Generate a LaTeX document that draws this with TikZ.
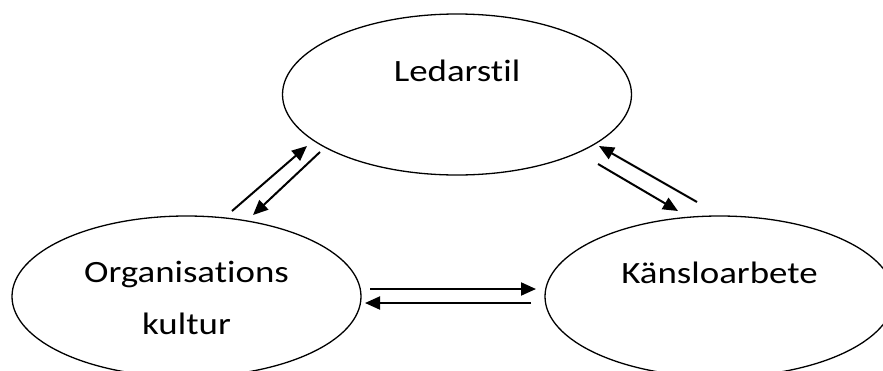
\documentclass[tikz,border=0pt]{standalone}
\usepackage{fontspec}
\newfontfamily\calibri{Carlito}[FakeStretch=1.19,Ligatures=NoCommon]
\usetikzlibrary{shapes.geometric,arrows.meta}

\begin{document}
\begin{tikzpicture}[x=1pt,y=-1pt,>={Triangle[length=15pt,width=13pt]},
                    oval/.style={ellipse,draw,line width=1.3pt,minimum width=349pt,minimum height=161pt,inner sep=0pt},
                    txt/.style={font=\calibri\fontsize{31}{52}\selectfont,align=center,anchor=base,inner sep=0pt},
                    conn/.style={->,line width=2pt}]
  \clip (0,0) rectangle (883,370);
  \fill[white] (0,0) rectangle (883,370);

  \node[oval] (led) at (457,94.5) {};
  \node[oval] (org) at (186.5,296.5) {};
  \node[oval] (kan) at (719.5,296.5) {};

  % text sits at the top of each oval, base of the last line
  \node[txt] (ledtxt) at ([yshift=-68pt]led.north) {Ledarstil};
  \node[txt] (orgtxt) at ([yshift=-119pt]org.north) {Organisations\\kultur};
  \node[txt] (kantxt) at ([yshift=-68pt]kan.north) {Känsloarbete};

  % ends of the arrows
  \coordinate (orgup) at (232,211);
  \coordinate (ledlo) at (307,146);
  \coordinate (ledlf) at (320,152);
  \coordinate (orgdn) at (253,215);
  \coordinate (kanup) at (697,202);
  \coordinate (ledro) at (599,146);
  \coordinate (ledrf) at (598,164);
  \coordinate (kandn) at (678,211);
  \coordinate (orgr1) at (370,289);
  \coordinate (kanl1) at (536,289);
  \coordinate (kanl2) at (531,303);
  \coordinate (orgr2) at (365,303);

  \draw[conn] (orgup) -- (ledlo);
  \draw[conn] (ledlf) -- (orgdn);
  \draw[conn] (kanup) -- (ledro);
  \draw[conn] (ledrf) -- (kandn);
  \draw[conn] (orgr1) -- (kanl1);
  \draw[conn] (kanl2) -- (orgr2);
\end{tikzpicture}
\end{document}
